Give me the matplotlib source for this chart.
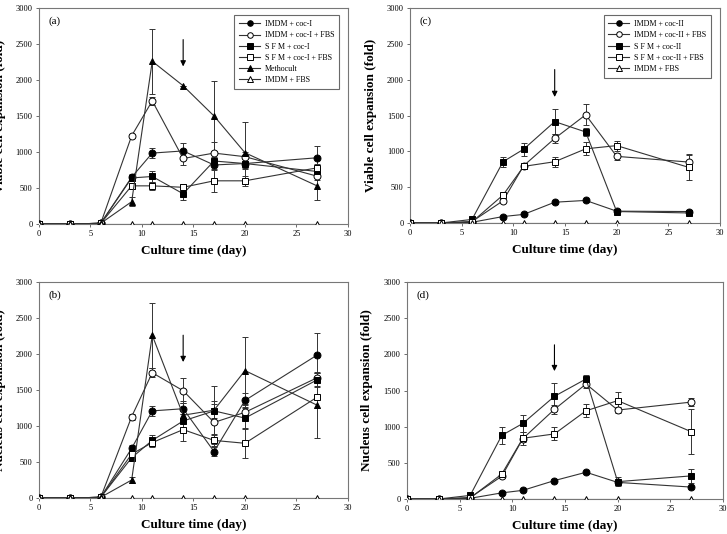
import matplotlib
matplotlib.use("Agg")
import matplotlib.pyplot as plt

plt.rcParams['font.family'] = ['Liberation Serif', 'DejaVu Serif']

# dias de cultivo
days = [0, 3, 6, 9, 11, 14, 17, 20, 27]

# (a) viable, coc-I
a_imdm_coc = [0, 0, 10, 650, 985, 1015, 820, 840, 920]
a_imdm_coc_fbs = [0, 0, 10, 1225, 1710, 910, 985, 935, 665]
a_sfm_coc = [0, 0, 10, 640, 660, 420, 875, 840, 730]
a_sfm_coc_fbs = [0, 0, 10, 530, 530, 510, 600, 600, 780]
a_methocult = [0, 0, 10, 310, 2260, 1920, 1500, 990, 530]
a_imdm_fbs = [0, 0, 0, 0, 0, 0, 0, 0, 0]
a_imdm_coc_err = [0, 0, 0, 40, 70, 115, 60, 80, 160]
a_imdm_coc_fbs_err = [0, 0, 0, 30, 60, 90, 155, 60, 60]
a_sfm_coc_err = [0, 0, 0, 40, 70, 85, 60, 60, 60]
a_sfm_coc_fbs_err = [0, 0, 0, 40, 60, 40, 155, 70, 60]
a_methocult_err = [0, 0, 0, 60, 450, 0, 480, 430, 200]

# (b) nucleus, coc-I
b_imdm_coc = [0, 0, 10, 690, 1210, 1240, 645, 1355, 1985]
b_imdm_coc_fbs = [0, 0, 10, 1130, 1740, 1490, 1050, 1190, 1670]
b_sfm_coc = [0, 0, 10, 560, 800, 1070, 1210, 1110, 1640]
b_sfm_coc_fbs = [0, 0, 10, 610, 770, 950, 800, 760, 1400]
b_methocult = [0, 0, 10, 250, 2260, 1150, 1220, 1770, 1290]
b_imdm_fbs = [0, 0, 0, 0, 0, 0, 0, 0, 0]
b_imdm_coc_err = [0, 0, 0, 40, 70, 80, 60, 100, 300]
b_imdm_coc_fbs_err = [0, 0, 0, 40, 60, 170, 300, 100, 60]
b_sfm_coc_err = [0, 0, 0, 40, 80, 100, 100, 150, 100]
b_sfm_coc_fbs_err = [0, 0, 0, 40, 60, 160, 80, 210, 150]
b_methocult_err = [0, 0, 0, 40, 450, 200, 330, 460, 460]

# (c) viable, coc-II
c_imdm_coc = [0, 0, 10, 90, 120, 290, 315, 165, 160]
c_imdm_coc_fbs = [0, 0, 20, 310, 800, 1180, 1510, 930, 850]
c_sfm_coc = [0, 0, 50, 855, 1030, 1415, 1270, 160, 140]
c_sfm_coc_fbs = [0, 0, 15, 390, 790, 855, 1035, 1080, 775]
c_imdm_fbs = [0, 0, 0, 0, 0, 0, 0, 0, 0]
c_imdm_coc_err = [0, 0, 0, 10, 15, 20, 20, 20, 20]
c_imdm_coc_fbs_err = [0, 0, 0, 20, 40, 60, 145, 50, 110]
c_sfm_coc_err = [0, 0, 0, 70, 90, 180, 60, 20, 20]
c_sfm_coc_fbs_err = [0, 0, 0, 20, 40, 70, 90, 70, 180]

# (d) nucleus, coc-II
d_imdm_coc = [0, 0, 10, 85, 120, 255, 370, 230, 165]
d_imdm_coc_fbs = [0, 0, 20, 315, 835, 1240, 1590, 1230, 1340]
d_sfm_coc = [0, 0, 50, 880, 1045, 1420, 1660, 240, 320]
d_sfm_coc_fbs = [0, 0, 15, 345, 840, 900, 1220, 1360, 930]
d_imdm_fbs = [0, 0, 0, 0, 0, 0, 0, 0, 0]
d_imdm_coc_err = [0, 0, 0, 10, 15, 20, 20, 20, 20]
d_imdm_coc_fbs_err = [0, 0, 0, 20, 50, 60, 60, 40, 60]
d_sfm_coc_err = [0, 0, 0, 120, 120, 180, 60, 60, 100]
d_sfm_coc_fbs_err = [0, 0, 0, 30, 90, 90, 90, 120, 310]

# estilo de cada serie: (marker, relleno)
styles = {
    'imdm_coc': ('o', 'black'),
    'imdm_coc_fbs': ('o', 'white'),
    'sfm_coc': ('s', 'black'),
    'sfm_coc_fbs': ('s', 'white'),
    'methocult': ('^', 'black'),
    'imdm_fbs': ('^', 'white'),
}

line_col = '#333333'


def draw_series(ax, y, err, key, label):
    marker, face = styles[key]
    if err is not None:
        ax.errorbar(days, y, yerr=err, fmt='none', ecolor=line_col,
                    elinewidth=0.7, capsize=2.2, capthick=0.7, zorder=2)
    ax.plot(days, y, color=line_col, lw=0.8, marker=marker, ms=5,
            mfc=face, mec='black', mew=0.7, label=label, zorder=3)


def style_axes(ax, tag, ylabel, arrow_from, arrow_to):
    ax.set_xlim(0, 30)
    ax.set_ylim(0, 3000)
    ax.set_xticks(range(0, 31, 5))
    ax.set_yticks(range(0, 3001, 500))
    ax.tick_params(labelsize=6, length=2.5, width=0.6, color='#555555', pad=2)
    for s in ax.spines.values():
        s.set_color('#777777')
        s.set_linewidth(0.8)
    ax.set_xlabel('Culture time (day)', fontsize=9.5, fontweight='bold', labelpad=5)
    ax.set_ylabel(ylabel, fontsize=9.5, fontweight='bold')
    ax.yaxis.set_label_coords(-0.106, 0.5)
    ax.text(0.03, 0.94, tag, transform=ax.transAxes, fontsize=8,
            ha='left', va='center')
    ax.annotate('', xy=(14, arrow_to), xytext=(14, arrow_from),
                arrowprops=dict(arrowstyle='-|>', color='black', lw=0.8,
                                mutation_scale=8))


fig = plt.figure(figsize=(7.27, 5.34), dpi=100)
ax_a = fig.add_axes([0.0536, 0.5805, 0.425, 0.4045])
ax_c = fig.add_axes([0.564, 0.5824, 0.4264, 0.4026])
ax_b = fig.add_axes([0.0536, 0.0674, 0.425, 0.4045])
ax_d = fig.add_axes([0.5598, 0.0655, 0.4347, 0.4064])

# (a)
draw_series(ax_a, a_imdm_coc, a_imdm_coc_err, 'imdm_coc', 'IMDM + coc-I')
draw_series(ax_a, a_imdm_coc_fbs, a_imdm_coc_fbs_err, 'imdm_coc_fbs', 'IMDM + coc-I + FBS')
draw_series(ax_a, a_sfm_coc, a_sfm_coc_err, 'sfm_coc', 'S F M + coc-I')
draw_series(ax_a, a_sfm_coc_fbs, a_sfm_coc_fbs_err, 'sfm_coc_fbs', 'S F M + coc-I + FBS')
draw_series(ax_a, a_methocult, a_methocult_err, 'methocult', 'Methocult')
draw_series(ax_a, a_imdm_fbs, None, 'imdm_fbs', 'IMDM + FBS')
style_axes(ax_a, '(a)', 'Viable cell expansion (fold)', 2600, 2150)

# (b)
draw_series(ax_b, b_imdm_coc, b_imdm_coc_err, 'imdm_coc', 'IMDM + coc-I')
draw_series(ax_b, b_imdm_coc_fbs, b_imdm_coc_fbs_err, 'imdm_coc_fbs', 'IMDM + coc-I + FBS')
draw_series(ax_b, b_sfm_coc, b_sfm_coc_err, 'sfm_coc', 'S F M + coc-I')
draw_series(ax_b, b_sfm_coc_fbs, b_sfm_coc_fbs_err, 'sfm_coc_fbs', 'S F M + coc-I + FBS')
draw_series(ax_b, b_methocult, b_methocult_err, 'methocult', 'Methocult')
draw_series(ax_b, b_imdm_fbs, None, 'imdm_fbs', 'IMDM + FBS')
style_axes(ax_b, '(b)', 'Nucleus cell expansion (fold)', 2300, 1850)

# (c)
draw_series(ax_c, c_imdm_coc, c_imdm_coc_err, 'imdm_coc', 'IMDM + coc-II')
draw_series(ax_c, c_imdm_coc_fbs, c_imdm_coc_fbs_err, 'imdm_coc_fbs', 'IMDM + coc-II + FBS')
draw_series(ax_c, c_sfm_coc, c_sfm_coc_err, 'sfm_coc', 'S F M + coc-II')
draw_series(ax_c, c_sfm_coc_fbs, c_sfm_coc_fbs_err, 'sfm_coc_fbs', 'S F M + coc-II + FBS')
draw_series(ax_c, c_imdm_fbs, None, 'imdm_fbs', 'IMDM + FBS')
style_axes(ax_c, '(c)', 'Viable cell expansion (fold)', 2180, 1720)

# (d)
draw_series(ax_d, d_imdm_coc, d_imdm_coc_err, 'imdm_coc', 'IMDM + coc-II')
draw_series(ax_d, d_imdm_coc_fbs, d_imdm_coc_fbs_err, 'imdm_coc_fbs', 'IMDM + coc-II + FBS')
draw_series(ax_d, d_sfm_coc, d_sfm_coc_err, 'sfm_coc', 'S F M + coc-II')
draw_series(ax_d, d_sfm_coc_fbs, d_sfm_coc_fbs_err, 'sfm_coc_fbs', 'S F M + coc-II + FBS')
draw_series(ax_d, d_imdm_fbs, None, 'imdm_fbs', 'IMDM + FBS')
style_axes(ax_d, '(d)', 'Nucleus cell expansion (fold)', 2170, 1730)

for ax in (ax_a, ax_c):
    leg = ax.legend(loc='upper right', fontsize=5.8, frameon=True, fancybox=False,
                    edgecolor='#444444', handlelength=2.6, borderpad=0.6,
                    labelspacing=0.4, handletextpad=0.6, markerscale=0.8,
                    bbox_to_anchor=(0.985, 0.985))
    leg.get_frame().set_linewidth(0.8)

fig.savefig('out.png', dpi=100)
